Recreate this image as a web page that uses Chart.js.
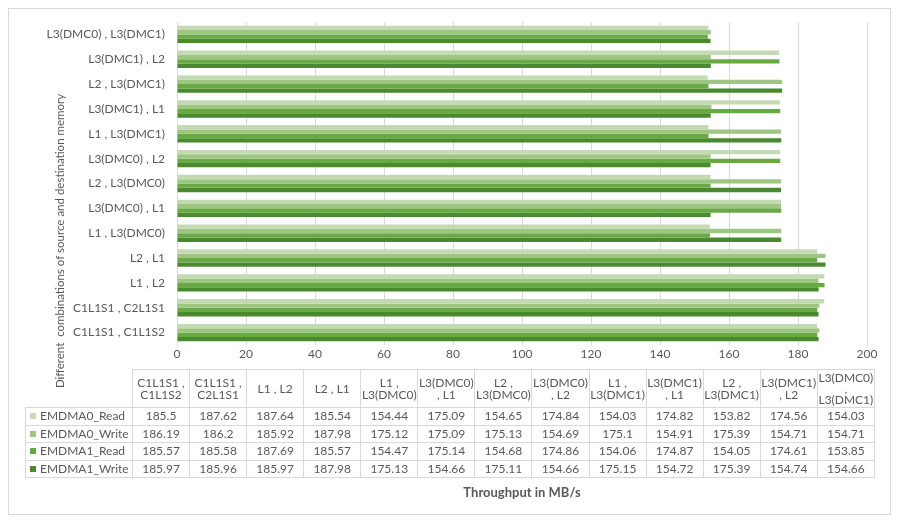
<!DOCTYPE html>
<html>
<head>
<meta charset="utf-8">
<script src="https://cdn.jsdelivr.net/npm/chart.js@4.4.1/dist/chart.umd.min.js"></script>
<style>
  html, body { margin: 0; padding: 0; background: #ffffff; }
  #wrap { position: relative; width: 900px; height: 522px; overflow: hidden; }
  #frame { position: absolute; left: 8px; top: 8px; width: 881px; height: 505px; border: 1px solid #d9d9d9; pointer-events: none; }
  #c { position: absolute; left: 0; top: 0; }
  #tbl { position: absolute; left: 25px; top: 369px; border-collapse: collapse; table-layout: fixed; width: 850px;
         font-family: Lato, "Open Sans", sans-serif; font-size: 12px; color: #595959; }
  #tbl td { border: 1px solid #d9d9d9; text-align: center; padding: 0; white-space: nowrap; overflow: hidden; }
  #tbl tr.hd td { height: 37px; line-height: 12px; }
  #tbl tr.hd td.three { line-height: 11px; }
  #tbl tr.dt td { height: 16.5px; line-height: 14px; }
  #tbl td.blank { border: none; }
  #tbl td.lg { text-align: left; padding-left: 4px; }
  .sw { display: inline-block; width: 6px; height: 6px; margin-right: 4px; vertical-align: 1px; }
</style>
</head>
<body>
<div id="wrap">
  <canvas id="c" width="900" height="522"></canvas>
  <table id="tbl"></table>
  <div id="frame"></div>
</div>
<script>
const categories = ["C1L1S1 , C1L1S2","C1L1S1 , C2L1S1","L1 , L2","L2 , L1","L1 , L3(DMC0)","L3(DMC0) , L1","L2 , L3(DMC0)","L3(DMC0) , L2","L1 , L3(DMC1)","L3(DMC1) , L1","L2 , L3(DMC1)","L3(DMC1) , L2","L3(DMC0) , L3(DMC1)"];
const tableHeaders = [["C1L1S1 ,","C1L1S2"],["C1L1S1 ,","C2L1S1"],["L1 , L2"],["L2 , L1"],["L1 ,","L3(DMC0)"],["L3(DMC0)",", L1"],["L2 ,","L3(DMC0)"],["L3(DMC0)",", L2"],["L1 ,","L3(DMC1)"],["L3(DMC1)",", L1"],["L2 ,","L3(DMC1)"],["L3(DMC1)",", L2"],["L3(DMC0)",",","L3(DMC1)"]];
const seriesNames = ["EMDMA0_Read","EMDMA0_Write","EMDMA1_Read","EMDMA1_Write"];
const emdma0Read  = [185.5,187.62,187.64,185.54,154.44,175.09,154.65,174.84,154.03,174.82,153.82,174.56,154.03];
const emdma0Write = [186.19,186.2,185.92,187.98,175.12,175.09,175.13,154.69,175.1,154.91,175.39,154.71,154.71];
const emdma1Read  = [185.57,185.58,187.69,185.57,154.47,175.14,154.68,174.86,154.06,174.87,154.05,174.61,153.85];
const emdma1Write = [185.97,185.96,185.97,187.98,175.13,154.66,175.11,154.66,175.15,154.72,175.39,154.74,154.66];
const seriesColors = ["#c3dab3","#9cc682","#68a845","#4a8a2e"];
const xTitle = "Throughput in MB/s";
const yTitle = "Different  combinations of source and destination memory";

const seriesData = [emdma0Read, emdma0Write, emdma1Read, emdma1Write];
const FONT = "Lato, 'Open Sans', sans-serif";
const TXT = "#595959";

const yTitlePlugin = {
  id: 'yTitle',
  afterDraw(chart) {
    const ctx = chart.ctx;
    ctx.save();
    ctx.translate(60, 241);
    ctx.rotate(-Math.PI / 2);
    ctx.font = "11.5px " + FONT;
    ctx.fillStyle = TXT;
    ctx.textAlign = 'center';
    ctx.textBaseline = 'middle';
    ctx.fillText(yTitle, 0, 0);
    ctx.restore();
  }
};

new Chart(document.getElementById('c'), {
  type: 'bar',
  data: {
    labels: categories,
    datasets: seriesNames.map((n, i) => ({
      label: n,
      data: seriesData[i],
      backgroundColor: seriesColors[i],
      borderWidth: 0,
      categoryPercentage: 0.7,
      barPercentage: 1.0
    }))
  },
  options: {
    indexAxis: 'y',
    responsive: false,
    animation: false,
    devicePixelRatio: 1,
    layout: { padding: { top: 22, right: 33, left: 0, bottom: 0 } },
    plugins: { legend: { display: false }, tooltip: { enabled: false } },
    scales: {
      x: {
        min: 0, max: 200,
        ticks: { stepSize: 20, color: TXT, font: { family: FONT, size: 12 }, padding: 2 },
        grid: { color: '#d9d9d9', drawTicks: false },
        border: { display: false },
        title: { display: true, text: xTitle, color: TXT, font: { family: FONT, size: 13, weight: 'bold' }, padding: { top: 0, bottom: 21 } },
        afterFit(s) { s.height = 177; }
      },
      y: {
        reverse: true,
        ticks: { color: TXT, font: { family: FONT, size: 12 }, padding: 12 },
        grid: { display: false, drawTicks: false },
        border: { display: false },
        afterFit(s) { s.width = 177; }
      }
    }
  },
  plugins: [yTitlePlugin]
});

// data table
const tbl = document.getElementById('tbl');
let html = '<colgroup><col style="width:107px">' + categories.map(() => '<col>').join('') + '</colgroup>';
html += '<tr class="hd"><td class="blank"></td>' + tableHeaders.map(h => '<td' + (h.length > 2 ? ' class="three"' : '') + '>' + h.join('<br>') + '</td>').join('') + '</tr>';
seriesNames.forEach((n, i) => {
  html += '<tr class="dt"><td class="lg"><span class="sw" style="background:' + seriesColors[i] + '"></span>' + n + '</td>' +
    seriesData[i].map(v => '<td>' + v + '</td>').join('') + '</tr>';
});
tbl.innerHTML = html;
</script>
</body>
</html>
